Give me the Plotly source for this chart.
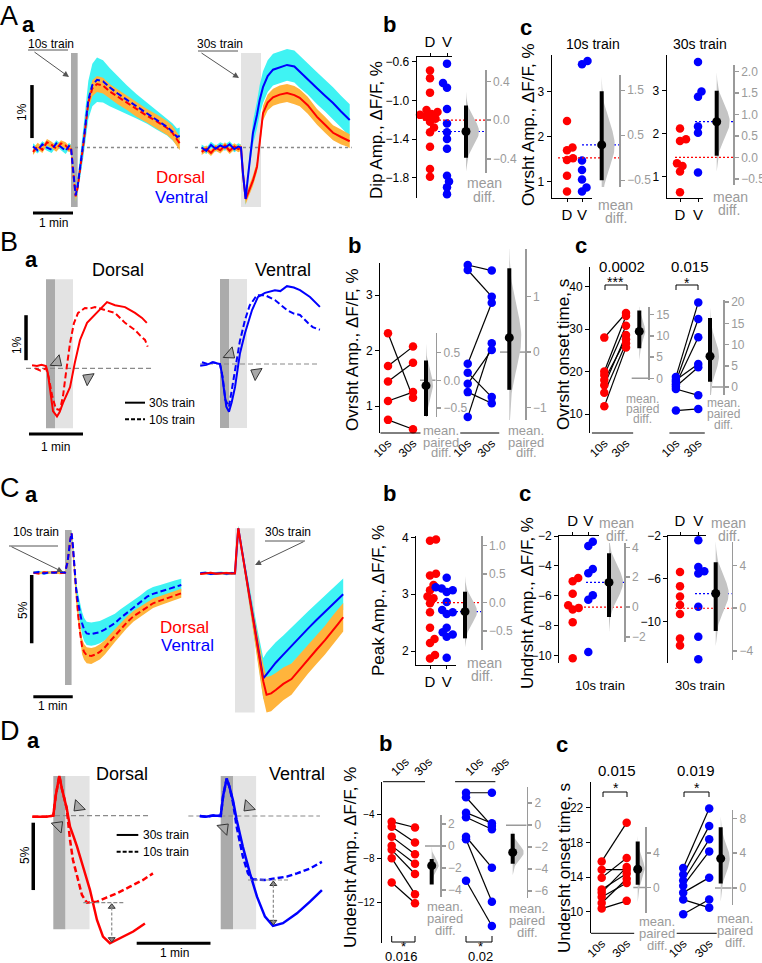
import math
import plotly.graph_objects as go

# ======================= DATA =======================
# --- A a : mean traces (dF/F, %) with SEM, time in s from train onset
a10_t = [-57, -50, -43, -36, -29, -22, -15, -8, -3, 0, 3, 7, 10, 14, 19, 26, 32, 39, 48, 58, 70, 84, 98, 114, 128, 144, 152, 159, 163]
a10_dorsal = [-0.08, 0.03, -0.04, 0.10, 0.05, -0.02, 0.08, 0.04, -0.03, 0.00, -0.42, -0.92, -0.75, -0.40, 0.10, 0.85, 1.12, 1.20, 1.17, 1.06, 0.96, 0.85, 0.72, 0.60, 0.50, 0.37, 0.28, 0.15, 0.08]
a10_dorsal_sem = [0.06, 0.06, 0.06, 0.06, 0.06, 0.06, 0.06, 0.06, 0.06, 0.06, 0.08, 0.10, 0.10, 0.11, 0.12, 0.14, 0.15, 0.15, 0.15, 0.14, 0.14, 0.14, 0.14, 0.13, 0.13, 0.13, 0.13, 0.13, 0.13]
a10_ventral = [0.02, -0.05, 0.06, 0.00, -0.04, 0.08, 0.01, -0.06, 0.03, 0.00, -0.40, -0.90, -0.72, -0.37, 0.14, 0.90, 1.18, 1.28, 1.25, 1.14, 1.02, 0.90, 0.78, 0.65, 0.52, 0.39, 0.30, 0.20, 0.22]
a10_ventral_sem = [0.06, 0.06, 0.06, 0.06, 0.06, 0.06, 0.06, 0.06, 0.06, 0.06, 0.10, 0.12, 0.15, 0.20, 0.28, 0.36, 0.40, 0.42, 0.40, 0.36, 0.32, 0.27, 0.23, 0.20, 0.18, 0.16, 0.16, 0.16, 0.16]

a30_t = [-59, -52, -45, -38, -31, -24, -17, -10, -4, 0, 3, 7, 10, 14, 18, 24, 28, 33, 40, 48, 58, 69, 80, 88, 100, 114, 126, 138, 150, 159, 163]
a30_dorsal = [-0.08, -0.02, -0.10, 0.00, -0.05, 0.04, -0.06, 0.02, -0.03, 0.00, -0.50, -0.97, -0.88, -0.75, -0.62, -0.36, 0.10, 0.65, 0.85, 0.95, 1.00, 1.03, 0.99, 0.94, 0.80, 0.58, 0.43, 0.28, 0.20, 0.15, 0.12]
a30_dorsal_sem = [0.06, 0.06, 0.06, 0.06, 0.06, 0.06, 0.06, 0.06, 0.06, 0.06, 0.08, 0.10, 0.10, 0.10, 0.10, 0.10, 0.12, 0.14, 0.15, 0.16, 0.17, 0.17, 0.17, 0.16, 0.16, 0.15, 0.15, 0.14, 0.14, 0.13, 0.13]
a30_ventral = [0.00, -0.06, 0.05, -0.02, 0.04, 0.00, 0.06, -0.03, 0.02, 0.00, -0.50, -0.97, -0.60, -0.10, 0.28, 0.62, 0.90, 1.14, 1.35, 1.47, 1.52, 1.56, 1.53, 1.43, 1.30, 1.12, 0.98, 0.84, 0.68, 0.56, 0.52]
a30_ventral_sem = [0.06, 0.06, 0.06, 0.06, 0.06, 0.06, 0.06, 0.06, 0.06, 0.06, 0.10, 0.12, 0.14, 0.18, 0.22, 0.26, 0.28, 0.30, 0.30, 0.30, 0.30, 0.30, 0.30, 0.30, 0.30, 0.30, 0.30, 0.30, 0.30, 0.30, 0.30]

# --- A b / A c
ab_dorsal = [-0.69, -0.77, -0.92, -1.10, -1.12, -1.14, -1.15, -1.17, -1.19, -1.22, -1.28, -1.33, -1.48, -1.71, -1.79]
ab_ventral = [-0.62, -0.82, -0.84, -0.87, -1.09, -1.24, -1.31, -1.33, -1.40, -1.50, -1.78, -1.84, -1.90, -1.97]
ab_ci = [-0.39, 0.15]
ac10_dorsal = [2.35, 1.76, 1.70, 1.52, 1.48, 1.13, 0.78]
ac10_ventral = [3.68, 3.61, 1.47, 1.26, 1.05, 0.87, 0.78]
ac10_ci = [-0.50, 1.48]
ac30_dorsal = [2.12, 1.87, 1.83, 1.31, 1.25, 1.12, 0.64]
ac30_ventral = [3.67, 2.98, 2.86, 2.17, 2.02, 1.15, 1.10]
ac30_ci = [0.04, 1.55]

# --- B a : single traces
bd_t30 = [-15.5, -10, -5, 0, 2, 4.4, 7.8, 12.2, 15, 18.9, 22, 26.7, 32, 37.8, 45.6, 52.2, 60, 67.8, 76.7, 87.8, 98.9, 106.7, 112]
bd_30 = [0.07, 0.05, 0.08, 0.05, -0.10, -0.50, -0.95, -1.07, -0.98, -0.77, -0.62, -0.42, 0.12, 0.63, 1.01, 1.14, 1.30, 1.47, 1.40, 1.36, 1.23, 1.12, 1.01]
bd_t10 = [-12, -6, 0, 3, 6.7, 11, 15.6, 19, 22.2, 26.7, 31, 35.6, 43.3, 49, 54.4, 60, 65.6, 76.7, 87.8, 98.9, 105, 110, 113]
bd_10 = [0.00, -0.05, 0.00, -0.20, -0.60, -0.90, -0.93, -0.60, -0.10, 0.56, 1.00, 1.23, 1.34, 1.33, 1.36, 1.33, 1.30, 1.23, 1.01, 0.85, 0.72, 0.63, 0.48]
bv_t30 = [-22, -15, -8, 0, 2, 4.4, 7, 10, 13, 16.7, 22.2, 27.8, 35.6, 42.2, 50, 61, 67, 74.4, 82, 88.9, 100, 111]
bv_30 = [-0.04, -0.02, 0.04, 0.00, -0.20, -0.60, -0.95, -1.06, -0.85, -0.51, 0.24, 0.69, 1.20, 1.49, 1.58, 1.64, 1.62, 1.73, 1.70, 1.64, 1.49, 1.27]
bv_t10 = [-20, -14, -8, 0, 3, 6, 10, 13, 17.8, 22, 27.8, 33, 41, 50, 61, 74.4, 82, 88.9, 97.8, 103, 111]
bv_10 = [0.04, 0.00, 0.04, 0.00, -0.30, -0.80, -0.95, -0.60, -0.06, 0.50, 0.98, 1.30, 1.53, 1.53, 1.42, 1.20, 1.12, 1.09, 0.91, 0.82, 0.76]

# --- B b / B c (paired)
bb_dorsal_10 = [2.31, 1.72, 1.44, 1.09, 0.75]
bb_dorsal_30 = [1.15, 2.07, 1.78, 1.25, 0.58]
bb_dorsal_ci = [-0.64, 0.36]
bb_ventral_10 = [3.54, 3.45, 1.76, 1.60, 1.40, 1.25, 0.80]
bb_ventral_30 = [3.44, 2.97, 2.86, 1.16, 2.01, 1.05, 2.13]
bb_ventral_ci = [-0.68, 1.51]
bc_dorsal_10 = [28.0, 20.0, 19.2, 18.0, 16.8, 15.0, 11.8]
bc_dorsal_30 = [33.8, 33.1, 30.8, 27.6, 28.6, 26.7, 25.7]
bc_dorsal_ci = [7.1, 16.0]
bc_ventral_10 = [18.7, 17.6, 17.0, 18.0, 16.5, 15.9, 10.8]
bc_ventral_30 = [36.3, 32.4, 28.1, 21.8, 21.0, 14.4, 11.2]
bc_ventral_ci = [1.25, 16.25]

# --- C a : mean traces with SEM
c10_t = [-48, -40, -32, -24, -16, -8, 0, 4, 8, 10, 12, 15, 17, 20, 23, 26, 29, 33, 40, 46, 53, 61, 68, 76, 84, 94, 104, 114, 125, 134, 145, 155, 167, 177]
c10_ventral = [0.00, 0.05, -0.05, 0.02, 0.00, 0.05, 0.00, 0.80, 2.40, 2.89, 2.00, 0.00, -1.20, -2.20, -3.00, -3.70, -4.15, -4.45, -4.50, -4.45, -4.35, -4.15, -3.96, -3.70, -3.34, -2.95, -2.61, -2.20, -1.76, -1.55, -1.39, -1.20, -1.03, -0.90]
c10_ventral_sem = [0.10, 0.10, 0.10, 0.10, 0.10, 0.10, 0.10, 0.15, 0.20, 0.20, 0.25, 0.35, 0.50, 0.65, 0.75, 0.82, 0.85, 0.85, 0.85, 0.85, 0.82, 0.80, 0.75, 0.70, 0.65, 0.60, 0.55, 0.52, 0.50, 0.50, 0.48, 0.46, 0.45, 0.45]
c10_dorsal = [0.00, -0.05, 0.03, 0.00, 0.04, -0.03, 0.00, 0.80, 2.40, 2.89, 1.80, -0.30, -1.76, -3.10, -4.42, -5.40, -5.80, -6.05, -6.10, -6.00, -5.80, -5.45, -5.05, -4.60, -4.15, -3.65, -3.20, -2.86, -2.55, -2.24, -2.05, -1.88, -1.70, -1.51]
c10_dorsal_sem = [0.08, 0.08, 0.08, 0.08, 0.08, 0.08, 0.08, 0.12, 0.15, 0.15, 0.20, 0.30, 0.40, 0.50, 0.55, 0.58, 0.58, 0.58, 0.58, 0.56, 0.55, 0.52, 0.50, 0.47, 0.45, 0.42, 0.40, 0.38, 0.36, 0.35, 0.34, 0.33, 0.33, 0.33]

c30_t = [-53, -45, -37, -29, -21, -13, -5, 0, 2, 5, 10, 15, 20, 25, 30, 35, 40, 43, 48, 55, 62, 73.5, 86, 99, 111, 124, 137, 149.5, 157, 164.7]
c30_ventral = [0.00, 0.04, -0.05, 0.00, 0.03, -0.04, 0.02, 0.00, 1.50, 3.30, 1.85, 0.40, -1.00, -2.50, -3.90, -5.40, -6.80, -7.70, -7.40, -6.95, -6.55, -5.96, -5.30, -4.64, -4.05, -3.42, -2.80, -2.20, -1.85, -1.54]
c30_ventral_sem = [0.10, 0.10, 0.10, 0.10, 0.10, 0.10, 0.10, 0.10, 0.15, 0.20, 0.25, 0.35, 0.50, 0.70, 0.90, 1.10, 1.30, 1.50, 1.60, 1.55, 1.50, 1.40, 1.35, 1.30, 1.25, 1.20, 1.15, 1.15, 1.15, 1.15]
c30_dorsal = [-0.05, 0.00, 0.04, -0.03, 0.00, 0.03, -0.02, 0.00, 1.50, 3.30, 1.80, 0.30, -1.10, -2.60, -4.10, -5.60, -7.10, -7.90, -8.90, -8.80, -8.55, -8.10, -7.75, -7.00, -6.30, -5.60, -4.90, -4.10, -3.70, -3.22]
c30_dorsal_sem = [0.08, 0.08, 0.08, 0.08, 0.08, 0.08, 0.08, 0.08, 0.12, 0.15, 0.20, 0.30, 0.45, 0.60, 0.80, 1.00, 1.15, 1.25, 1.30, 1.30, 1.25, 1.20, 1.15, 1.10, 1.05, 1.05, 1.05, 1.05, 1.05, 1.05]

# --- C b / C c
cb_dorsal = [3.94, 3.96, 3.36, 3.33, 3.16, 3.07, 2.96, 2.93, 2.84, 2.68, 2.41, 2.21, 2.14, 1.93, 1.87]
cb_ventral = [3.29, 3.10, 3.07, 3.04, 3.12, 2.86, 2.72, 2.68, 2.65, 2.41, 2.33, 2.29, 2.25, 1.88]
cb_ci = [-0.63, 0.19]
cc10_dorsal = [-4.82, -5.04, -5.87, -6.65, -6.82, -6.93, -7.78, -10.20]
cc10_ventral = [-2.38, -2.67, -4.22, -4.49, -5.98, -6.27, -9.78]
cc10_ci = [-0.67, 3.60]
cc30_dorsal = [-5.36, -6.68, -7.65, -8.44, -9.29, -11.56, -12.22]
cc30_ventral = [-2.40, -4.90, -5.30, -5.50, -8.60, -11.40, -13.50]
cc30_ci = [-2.13, 4.30]

# --- D a : single traces
dd_t30 = [-17, -12, -6, 0, 2, 4.9, 7, 10.9, 13.6, 16.5, 19.3, 24.2, 29.8, 35.5, 40.4, 46, 54.2, 65, 74.5]
dd_30 = [-0.07, -0.05, -0.08, 0.00, 1.50, 2.95, 2.00, 0.55, -0.82, -1.55, -2.30, -3.79, -5.50, -7.74, -8.98, -9.47, -9.10, -8.60, -8.00]
dd_t10 = [-17, -12, -6, 0, 2, 4.9, 7, 10.9, 13.6, 16, 19.3, 23.3, 27.4, 35.5, 43.6, 51.7, 62.3, 73, 81]
dd_10 = [-0.07, -0.05, -0.08, 0.00, 1.50, 2.95, 2.00, 0.55, -1.80, -3.29, -4.53, -5.89, -6.46, -6.38, -6.06, -5.76, -5.27, -4.77, -4.28]
dv_t30 = [-17, -12, -6, 0, 2, 4.9, 7, 10, 13, 18, 23.8, 29.5, 36, 42.5, 50.6, 62, 72.6, 82.3]
dv_30 = [0.00, -0.05, 0.03, 0.00, 1.50, 2.78, 2.20, 1.17, -0.30, -2.28, -4.26, -5.99, -7.47, -8.16, -7.96, -7.23, -6.36, -5.50]
dv_t10 = [-17, -12, -6, 0, 2, 4.9, 7, 10, 13, 18, 22.2, 26, 36, 44.2, 53.7, 62, 72.6, 82.3]
dv_10 = [0.00, -0.05, 0.03, 0.00, 1.50, 2.78, 2.20, 1.00, -0.80, -3.00, -4.26, -4.70, -4.75, -4.63, -4.50, -4.26, -3.90, -3.40]

# --- D b / D c (paired)
db_dorsal_10 = [-4.67, -5.13, -6.03, -6.87, -7.23, -7.99, -10.20]
db_dorsal_30 = [-5.20, -6.57, -7.63, -8.50, -9.43, -11.26, -12.08]
db_dorsal_ci = [-3.5, -1.2]
db_ventral_10 = [-2.04, -2.45, -3.85, -4.27, -6.04, -6.27, -10.04]
db_ventral_30 = [-2.04, -5.06, -4.82, -5.36, -8.85, -11.95, -14.15]
db_ventral_ci = [-3.5, -0.77]
dc_dorsal_10 = [15.8, 14.85, 13.93, 12.55, 12.2, 11.7, 11.0, 10.36]
dc_dorsal_30 = [20.27, 14.85, 16.2, 14.4, 15.15, 13.3, 13.8, 11.25]
dc_dorsal_ci = [0.3, 5.3]
dc_ventral_10 = [15.04, 14.28, 13.6, 13.0, 12.2, 11.4, 9.7]
dc_ventral_30 = [21.9, 19.9, 18.35, 16.96, 13.93, 10.47, 11.4]
dc_ventral_ci = [0.5, 7.0]

# ======================= STYLE / HELPERS =======================
W, H = 762, 963
FONT = "Liberation Sans, Arial, Helvetica, sans-serif"
RED, BLUE = "#ff0000", "#0000ff"
CYAN, ORANGE = "#3ff3f3", "#ffb43c"
DGRAY, LGRAY = "#ababab", "#e3e3e3"
GRAY = "#9a9a9a"
VIOL = "#c4c4c4"
MINUS = "\u2212"

fig = go.Figure()
layout, shapes, annos = {}, [], []
_n = [0]


def X(px):
    return px / W


def Y(py):
    return 1 - py / H


def cal(p0, p1, pa, va, pb, vb):
    k = (vb - va) / (pb - pa)
    return [va + (p0 - pa) * k, va + (p1 - pa) * k]


BASE = dict(showgrid=False, zeroline=False, showticklabels=False, ticks='', showline=False,
            fixedrange=True, automargin=False)


def new_axes(box, xr, yr, xkw=None, ykw=None):
    _n[0] += 1
    n = _n[0]
    s = '' if n == 1 else str(n)
    x0, x1, y0, y1 = box
    xa = dict(BASE, domain=[X(x0), X(x1)], range=xr, anchor='y' + s)
    ya = dict(BASE, domain=[Y(y1), Y(y0)], range=yr, anchor='x' + s)
    if xkw:
        xa.update(xkw)
    if ykw:
        ya.update(ykw)
    layout['xaxis' + s] = xa
    layout['yaxis' + s] = ya
    return 'x' + s, 'y' + s


def trace_axes(box, xs, sx, ys, sy):
    x0, x1, y0, y1 = box
    return new_axes(box, [(x0 - xs) / sx, (x1 - xs) / sx], [(ys - y1) / sy, (ys - y0) / sy])


def line(xa, ya, x, y, color, width=2, dash=None):
    ld = dict(color=color, width=width)
    if dash:
        ld['dash'] = dash
    fig.add_trace(go.Scatter(x=x, y=y, mode='lines', line=ld, xaxis=xa, yaxis=ya, hoverinfo='skip'))


def band(xa, ya, t, v, s, color):
    up = [a + b for a, b in zip(v, s)]
    lo = [a - b for a, b in zip(v, s)]
    fig.add_trace(go.Scatter(x=list(t) + list(t)[::-1], y=up + lo[::-1], mode='lines', fill='toself',
                             fillcolor=color, line=dict(width=0), xaxis=xa, yaxis=ya, hoverinfo='skip'))


def dots(xa, ya, xs, ys, color, size=8.5):
    fig.add_trace(go.Scatter(x=xs, y=ys, mode='markers', marker=dict(size=size, color=color, line=dict(width=0)),
                             cliponaxis=False, xaxis=xa, yaxis=ya, hoverinfo='skip'))


def tri(xa, ya, x, y, angle, size=12, color='#a8a8a8'):
    fig.add_trace(go.Scatter(x=[x], y=[y], mode='markers',
                             marker=dict(symbol='triangle-up', size=size, angle=angle, color=color,
                                         line=dict(color='#333333', width=1)),
                             cliponaxis=False, xaxis=xa, yaxis=ya, hoverinfo='skip'))


def rect(xa, ya, x0, y0, x1, y1, color):
    shapes.append(dict(type='rect', xref=xa, yref=ya, x0=x0, y0=y0, x1=x1, y1=y1,
                       fillcolor=color, line=dict(width=0), layer='below'))


def seg(xref, yref, x0, y0, x1, y1, color='black', width=1, dash=None, layer='above'):
    ld = dict(color=color, width=width)
    if dash:
        ld['dash'] = dash
    shapes.append(dict(type='line', xref=xref, yref=yref, x0=x0, y0=y0, x1=x1, y1=y1, line=ld, layer=layer))


def pline(x0, y0, x1, y1, color='black', width=1):
    seg('paper', 'paper', X(x0), Y(y0), X(x1), Y(y1), color, width)


def text(x, y, s, size=12, color='black', bold=False, angle=0, xanchor='center'):
    if bold:
        s = '<b>' + s + '</b>'
    annos.append(dict(xref='paper', yref='paper', x=X(x), y=Y(y), text=s, showarrow=False,
                      font=dict(size=size, color=color, family=FONT), textangle=angle,
                      xanchor=xanchor, yanchor='middle', borderpad=0))


def arrow(hx, hy, tx, ty):
    annos.append(dict(xref='paper', yref='paper', x=X(hx), y=Y(hy), ax=tx - hx, ay=ty - hy,
                      axref='pixel', ayref='pixel', text='', showarrow=True, arrowhead=2,
                      arrowsize=1.2, arrowwidth=1, arrowcolor='#555555'))


def swarm(vals, ppx, ppy, d=6.0):
    order = sorted(range(len(vals)), key=lambda i: vals[i])
    cands = [0.0]
    for k in range(1, 40):
        cands += [k * 0.5, -k * 0.5]
    placed = []
    offs = [0.0] * len(vals)
    for i in order:
        yp = vals[i] * ppy
        for c in cands:
            if all((c - px) ** 2 + (yp - py) ** 2 >= d * d for px, py in placed):
                offs[i] = c
                placed.append((c, yp))
                break
    return [o / ppx for o in offs]


def grayax(tv, tt):
    return dict(side='right', showline=True, linecolor=GRAY, linewidth=1.5, ticks='outside', ticklen=4,
                tickwidth=1.5, tickcolor=GRAY, tickvals=tv, ticktext=tt, showticklabels=True,
                tickfont=dict(size=12, color=GRAY, family=FONT))


def estimate(xa, ya, xm, d, ci, vw):
    lo, hi = ci
    sd = (hi - lo) / 3.92
    zs = [i / 10.0 for i in range(-30, 31)]
    vx = [xm] + [xm + vw * math.exp(-z * z / 2) for z in zs] + [xm]
    vy = [d - 3 * sd] + [d + z * sd for z in zs] + [d + 3 * sd]
    fig.add_trace(go.Scatter(x=vx, y=vy, mode='lines', fill='toself', fillcolor=VIOL, line=dict(width=0),
                             xaxis=xa, yaxis=ya, hoverinfo='skip'))
    line(xa, ya, [xm, xm], [lo, hi], 'black', 4)
    dots(xa, ya, [xm], [d], 'black', 9)


def ylab(tv):
    return [(MINUS + ('%g' % abs(v)) if v < 0 else '%g' % v) for v in tv]


def ylabf(tv, fmt):
    return [(MINUS if v < 0 else '') + (fmt % abs(v)) for v in tv]


def unpaired(box, xD, xV, ycal, ytv, ytt, xside, g1, g2, ci, dbox, dtv, dtt, xm_px, s1_px, s2_px, vw_px):
    x0, x1, y0, y1 = box
    xcal = (xD, 0.0, xV, 1.0)
    xa, ya = new_axes(box, cal(x0, x1, *xcal), cal(y1, y0, *ycal),
                      xkw=dict(showline=True, linecolor='black', linewidth=1, side=xside, ticks='outside',
                               ticklen=3, tickcolor='black', tickvals=[0, 1], ticktext=['D', 'V'],
                               showticklabels=True, tickfont=dict(size=15, color='black', family=FONT)),
                      ykw=dict(showline=True, linecolor='black', linewidth=1, ticks='outside', ticklen=4,
                               tickcolor='black', tickvals=ytv, ticktext=ytt, showticklabels=True,
                               tickfont=dict(size=12, color='black', family=FONT)))
    ppx = xV - xD
    ppy = (ycal[2] - ycal[0]) / (ycal[1] - ycal[3])
    o1 = swarm(g1, ppx, ppy)
    o2 = swarm(g2, ppx, ppy)
    m1 = sum(g1) / len(g1)
    m2 = sum(g2) / len(g2)
    dx0, dx1, dy0, dy1 = dbox
    dxr = cal(dx0, dx1, *xcal)
    dyr = cal(dy1, dy0, ycal[0], ycal[1] - m1, ycal[2], ycal[3] - m1)
    dxa, dya = new_axes(dbox, dxr, dyr, ykw=grayax(dtv, dtt))
    u = lambda p: (p - xD) / ppx
    dots(xa, ya, [0 + o for o in o1], g1, RED)
    dots(xa, ya, [1 + o for o in o2], g2, BLUE)
    line(dxa, dya, [u(s1_px), dxr[1]], [0, 0], RED, 1.2, '2px,2px')
    line(dxa, dya, [u(s2_px), dxr[1]], [m2 - m1, m2 - m1], BLUE, 1.2, '2px,2px')
    estimate(dxa, dya, u(xm_px), m2 - m1, ci, vw_px / ppx)


def paired_axes(box, x10, x30, ycal, ytv, ytt, xside, tickpos, ytsize=12):
    x0, x1, y0, y1 = box
    xcal = (x10, 0.0, x30, 1.0)
    xa, ya = new_axes(box, cal(x0, x1, *xcal), cal(y1, y0, *ycal),
                      xkw=dict(side=xside, tickvals=tickpos, ticktext=['10s', '30s', '10s', '30s'],
                               showticklabels=True, tickangle=-45,
                               tickfont=dict(size=12, color='black', family=FONT)),
                      ykw=dict(showline=True, linecolor='black', linewidth=1, ticks='outside', ticklen=4,
                               tickcolor='black', tickvals=ytv, ticktext=ytt, showticklabels=True,
                               tickfont=dict(size=ytsize, color='black', family=FONT)))
    return (xa, ya, xcal, ycal)


def paired_group(P, p10, p30, g10, g30, color, ci, dbox, dtv, dtt, xm_px, z0_px, vw_px):
    xa, ya, xcal, ycal = P
    lx, ly = [], []
    for a, b in zip(g10, g30):
        lx += [p10, p30, None]
        ly += [a, b, None]
    fig.add_trace(go.Scatter(x=lx, y=ly, mode='lines', line=dict(color='black', width=1.2),
                             xaxis=xa, yaxis=ya, hoverinfo='skip'))
    dots(xa, ya, [p10] * len(g10), g10, color)
    dots(xa, ya, [p30] * len(g30), g30, color)
    m10 = sum(g10) / len(g10)
    d = sum(g30) / len(g30) - m10
    dx0, dx1, dy0, dy1 = dbox
    dxr = cal(dx0, dx1, *xcal)
    dyr = cal(dy1, dy0, ycal[0], ycal[1] - m10, ycal[2], ycal[3] - m10)
    dxa, dya = new_axes(dbox, dxr, dyr, ykw=grayax(dtv, dtt))
    ppx = xcal[2] - xcal[0]
    line(dxa, dya, [(z0_px - xcal[0]) / ppx, dxr[1]], [0, 0], GRAY, 1.5)
    estimate(dxa, dya, (xm_px - xcal[0]) / ppx, d, ci, vw_px / ppx)


def spine_seg(P, xa0, xa1, ydom):
    xa, ya = P[0], P[1]
    seg(xa, ya + ' domain', xa0, ydom, xa1, ydom, 'black', 1)


# ======================= PANEL A =======================
text(9, 16, 'A', 27)
text(28, 24, 'a', 22, bold=True)
# A a left (10 s)
xa, ya = trace_axes((18, 190, 38, 222), 71, 0.667, 147.6, 53)
rect(xa, ya, 0, -1.12, 10, 1.785, DGRAY)
seg(xa, ya, -57, 0, 163, 0, '#8a8a8a', 1.5, '3px,3px', 'below')
band(xa, ya, a10_t, a10_ventral, a10_ventral_sem, CYAN)
band(xa, ya, a10_t, a10_dorsal, a10_dorsal_sem, ORANGE)
line(xa, ya, a10_t, a10_dorsal, RED, 2, '6px,3px')
line(xa, ya, a10_t, a10_ventral, BLUE, 2, '6px,3px')
seg(xa, ya, -58.5, 0.18, -58.5, 1.18, 'black', 3.5)
seg(xa, ya, -57, -1.234, 3, -1.234, 'black', 3)
# A a right (30 s)
xa, ya = trace_axes((190, 360, 38, 222), 241, 0.667, 147.6, 53)
rect(xa, ya, 0, -1.12, 30, 1.785, LGRAY)
seg(xa, ya, -69, 0, 166, 0, '#8a8a8a', 1.5, '3px,3px', 'below')
band(xa, ya, a30_t, a30_ventral, a30_ventral_sem, CYAN)
band(xa, ya, a30_t, a30_dorsal, a30_dorsal_sem, ORANGE)
line(xa, ya, a30_t, a30_dorsal, RED, 2)
line(xa, ya, a30_t, a30_ventral, BLUE, 2)
text(22, 112, '1%', 12, angle=-90)
text(53, 223, '1 min', 12)
text(51, 44, '10s train', 12)
pline(28, 50, 68, 50, '#555555', 1)
arrow(69, 77, 33, 51)
text(220, 44, '30s train', 12)
pline(198, 51, 238, 51, '#555555', 1)
arrow(239, 78, 200, 52)
text(180, 178, 'Dorsal', 17, RED)
text(181, 197, 'Ventral', 17, BLUE)

# A b
text(389, 25, 'b', 22, bold=True)
unpaired((416.7, 451.7, 56.7, 198), 430, 447, (61.7, -0.6, 177.7, -1.8), [-0.6, -1.0, -1.4, -1.8],
         ylabf([-0.6, -1.0, -1.4, -1.8], '%.1f'), 'top', ab_dorsal, ab_ventral, ab_ci,
         (418, 485, 70, 172.7), [0.4, 0.0, -0.4], ylabf([0.4, 0.0, -0.4], '%.1f'), 466, 423, 438, 13)
text(377, 130, 'Dip Amp., \u0394F/F, %', 17, angle=-90)
text(484, 183, 'mean', 14, GRAY)
text(484, 197, 'diff.', 14, GRAY)

# A c
text(526, 27, 'c', 22, bold=True)
text(528, 125, 'Ovrsht Amp., \u0394F/F, %', 17, angle=-90)
text(593, 44, '10s train', 14)
text(700, 44, '30s train', 14)
unpaired((551.7, 591.7, 55, 198), 567, 582, (91.7, 3, 181.7, 1), [3, 2, 1], ['3', '2', '1'], 'bottom',
         ac10_dorsal, ac10_ventral, ac10_ci, (555, 619.3, 75, 187), [1.5, 0.5, -0.5],
         ylabf([1.5, 0.5, -0.5], '%.1f'), 601.7, 558, 582, 13)
unpaired((666.7, 703, 55, 198), 680, 698, (90.7, 3, 176.7, 1), [3, 2, 1], ['3', '2', '1'], 'bottom',
         ac30_dorsal, ac30_ventral, ac30_ci, (670, 733.3, 65, 185), [2.0, 1.5, 1.0, 0.5, 0.0, -0.5],
         ylabf([2.0, 1.5, 1.0, 0.5, 0.0, -0.5], '%.1f'), 716.7, 675, 695, 13)
text(615, 205, 'mean', 14, GRAY)
text(616, 218, 'diff.', 14, GRAY)
text(730, 197, 'mean', 14, GRAY)
text(729, 210, 'diff.', 14, GRAY)

# ======================= PANEL B =======================
text(9, 242, 'B', 27)
text(31, 260, 'a', 22, bold=True)
text(118, 270, 'Dorsal', 18)
text(283, 270, 'Ventral', 18)
# B a dorsal
xa, ya = trace_axes((10, 165, 255, 455), 46, 0.9, 368.3, 45)
rect(xa, ya, 0, -1.33, 10, 1.98, DGRAY)
rect(xa, ya, 10, -1.33, 30, 1.98, LGRAY)
seg(xa, ya, -22.2, 0, 118.9, 0, '#8a8a8a', 1.2, '5px,3px', 'below')
line(xa, ya, bd_t10, bd_10, RED, 2, '6px,3px')
line(xa, ya, bd_t30, bd_30, RED, 2)
tri(xa, ya, 12.2, 0.14, 130)
tri(xa, ya, 46.7, -0.22, 300)
seg(xa, ya, -22.2, 0.18, -22.2, 1.18, 'black', 3.5)
seg(xa, ya, -18.9, -1.46, 41.1, -1.46, 'black', 3)
seg(xa, ya, 87.8, -0.764, 110, -0.764, 'black', 2)
seg(xa, ya, 87.8, -1.133, 110, -1.133, 'black', 2, '4px,2px')
text(148, 403, '30s train', 12, xanchor='left')
text(148, 419.5, '10s train', 12, xanchor='left')
text(17, 345, '1%', 12, angle=-90)
text(55, 447, '1 min', 12)
# B a ventral
xa, ya = trace_axes((185, 335, 255, 455), 220, 0.9, 364, 45)
rect(xa, ya, 0, -1.42, 10, 1.89, DGRAY)
rect(xa, ya, 10, -1.42, 30, 1.89, LGRAY)
seg(xa, ya, -22.2, 0, 111, 0, '#8a8a8a', 1.2, '5px,3px', 'below')
line(xa, ya, bv_t10, bv_10, BLUE, 2, '6px,3px')
line(xa, ya, bv_t30, bv_30, BLUE, 2)
tri(xa, ya, 11.1, 0.22, 130)
tri(xa, ya, 40, -0.2, 300)

# B b
text(354, 245, 'b', 22, bold=True)
text(353, 350, 'Ovrsht Amp., \u0394F/F, %', 17, angle=-90)
P = paired_axes((380, 505, 263, 433), 388, 413, (295, 3, 406, 1), [3, 2, 1], ['3', '2', '1'], 'bottom',
                [0, 1, 3.19, 4.15])
spine_seg(P, -0.3, 1.3, 0)
spine_seg(P, 2.89, 4.45, 0)
paired_group(P, 0, 1, bb_dorsal_10, bb_dorsal_30, RED, bb_dorsal_ci, (415, 435.7, 333, 417),
             [0.5, 0.0, -0.5], ylabf([0.5, 0.0, -0.5], '%.1f'), 426, 420, 7)
paired_group(P, 3.19, 4.15, bb_ventral_10, bb_ventral_30, BLUE, bb_ventral_ci, (495, 525, 249, 420),
             [2, 1, 0, -1], ylab([2, 1, 0, -1]), 509.3, 500, 12)
for yy, s in [(430, 'mean.'), (442, 'paired'), (453, 'diff.')]:
    text(441, yy, s, 13, GRAY)
    text(526, yy, s, 13, GRAY)

# B c
text(581, 245, 'c', 22, bold=True)
text(563, 355, 'Ovrsht onset time, s', 17, angle=-90)
P = paired_axes((590, 712, 266.7, 433), 604.3, 626, (286.7, 40, 414, 10), [40, 30, 20, 10],
                ['40', '30', '20', '10'], 'bottom', [0, 1, 3.30, 4.33])
spine_seg(P, -0.57, 1.33, 0)
spine_seg(P, 3.0, 4.63, 0)
paired_group(P, 0, 1, bc_dorsal_10, bc_dorsal_30, RED, bc_dorsal_ci, (628, 648.3, 306.7, 380),
             [15, 10, 5, 0], ylab([15, 10, 5, 0]), 639.3, 631.7, 6)
paired_group(P, 3.30, 4.33, bc_ventral_10, bc_ventral_30, BLUE, bc_ventral_ci, (702, 723.3, 300, 395),
             [20, 15, 10, 5, 0], ylab([20, 15, 10, 5, 0]), 710, 711.7, 9)
text(622, 267, '0.0002', 15)
text(615, 282, '***', 14)
pline(605, 285, 627, 285)
pline(605, 285, 605, 290)
pline(627, 285, 627, 290)
text(690, 267, '0.015', 15)
text(687, 283, '*', 14)
pline(676, 285, 698, 285)
pline(676, 285, 676, 290)
pline(698, 285, 698, 290)
for yy, s in [(399, 'mean.'), (409, 'paired'), (419, 'diff.')]:
    text(642, yy, s, 12, GRAY)
for yy, s in [(403, 'mean.'), (414, 'paired'), (425, 'diff.')]:
    text(723, yy, s, 12, GRAY)

# ======================= PANEL C =======================
text(10, 488, 'C', 27)
text(31, 494, 'a', 22, bold=True)
xa, ya = trace_axes((3, 190, 515, 722), 65, 0.657, 572.7, 13.65)
rect(xa, ya, 0, -8.23, 10, 3.13, DGRAY)
band(xa, ya, c10_t, c10_ventral, c10_ventral_sem, CYAN)
band(xa, ya, c10_t, c10_dorsal, c10_dorsal_sem, ORANGE)
line(xa, ya, c10_t, c10_dorsal, RED, 2, '6px,3px')
line(xa, ya, c10_t, c10_ventral, BLUE, 2, '6px,3px')
seg(xa, ya, -50.7, -0.17, -50.7, -5.17, 'black', 3.5)
seg(xa, ya, -48.2, -9.08, 11.8, -9.08, 'black', 3)
xa, ya = trace_axes((190, 362, 515, 722), 235, 0.657, 573.3, 13.65)
rect(xa, ya, 0, -10.2, 30, 3.3, LGRAY)
band(xa, ya, c30_t, c30_ventral, c30_ventral_sem, CYAN)
band(xa, ya, c30_t, c30_dorsal, c30_dorsal_sem, ORANGE)
line(xa, ya, c30_t, c30_ventral, BLUE, 2)
line(xa, ya, c30_t, c30_dorsal, RED, 2)
text(23, 610, '5%', 12, angle=-90)
text(52, 706, '1 min', 12)
text(36, 532, '10s train', 12)
pline(9, 546, 58, 546, '#555555', 1)
arrow(63, 572, 10, 546)
text(288, 532, '30s train', 12)
pline(265, 541, 305, 541, '#555555', 1)
arrow(255, 565, 305, 541)
text(184, 627, 'Dorsal', 17, RED)
text(187, 645, 'Ventral', 17, BLUE)

# C b
text(389, 493, 'b', 22, bold=True)
text(378, 601, 'Peak Amp., \u0394F/F, %', 17, angle=-90)
unpaired((416, 456, 536, 665), 430, 446.7, (537.3, 4, 651, 2), [4, 3, 2], ['4', '3', '2'], 'bottom',
         cb_dorsal, cb_ventral, cb_ci, (420, 481, 536, 650), [1.0, 0.5, 0.0, -0.5],
         ylabf([1.0, 0.5, 0.0, -0.5], '%.1f'), 465, 433, 448, 12)
text(484, 663, 'mean', 14, GRAY)
text(482, 676, 'diff.', 14, GRAY)

# C c
text(525, 493, 'c', 22, bold=True)
text(527, 603, 'Undrsht Amp., \u0394F/F, %', 17, angle=-90)
unpaired((559, 599.3, 536, 663), 572.7, 588.3, (536, -2, 655.3, -10), [-2, -4, -6, -8, -10],
         ylab([-2, -4, -6, -8, -10]), 'top', cc10_dorsal, cc10_ventral, cc10_ci, (562, 624, 543, 641.7),
         [4, 2, 0, -2], ylab([4, 2, 0, -2]), 609, 568, 586, 14)
unpaired((668.3, 706, 536, 663), 680, 698.3, (536, -2, 621.7, -10), [-2, -6, -10, -14],
         ylab([-2, -6, -10, -14]), 'top', cc30_dorsal, cc30_ventral, cc30_ci, (671, 731.7, 541.7, 660),
         [4, 0, -4], ylab([4, 0, -4]), 715.7, 675, 695, 13)
text(616, 523, 'mean', 14, GRAY)
text(617, 536, 'diff.', 14, GRAY)
text(728, 523, 'mean', 14, GRAY)
text(729, 536, 'diff.', 14, GRAY)
text(600, 685, '10s train', 13)
text(700, 685, '30s train', 13)

# ======================= PANEL D =======================
text(10, 731, 'D', 27)
text(33, 740, 'a', 22, bold=True)
text(122, 774, 'Dorsal', 18)
text(297, 774, 'Ventral', 18)
# D a dorsal
xa, ya = trace_axes((18, 218, 762, 960), 53.3, 1.23, 815.7, 13.47)
rect(xa, ya, 0, -8.43, 10, 2.95, DGRAY)
rect(xa, ya, 10, -8.43, 29.5, 2.95, LGRAY)
seg(xa, ya, 1.4, 0, 78.6, 0, '#8a8a8a', 1.2, '5px,3px', 'below')
line(xa, ya, dd_t10, dd_10, RED, 2.5, '6px,3px')
line(xa, ya, dd_t30, dd_30, RED, 2.5)
m10, m30 = min(dd_10), min(dd_30)
seg(xa, ya, 24.4, m10, 56.9, m10, '#8a8a8a', 1.2, '4px,2px')
seg(xa, ya, 47.5, m10 - 0.35, 47.5, m30 + 0.35, '#8a8a8a', 1.2, '3px,2px')
tri(xa, ya, 47.5, m10 - 0.3, 0, 6, '#8a8a8a')
tri(xa, ya, 47.5, m30 + 0.3, 180, 6, '#8a8a8a')
tri(xa, ya, 20.3, 0.67, 225)
tri(xa, ya, 4.1, -0.76, 45)
seg(xa, ya, -16.3, -0.52, -16.3, -5.52, 'black', 3.5)
seg(xa, ya, 67.8, -9.47, 127.8, -9.47, 'black', 3)
seg(xa, ya, 51.5, -1.43, 69.1, -1.43, 'black', 2)
seg(xa, ya, 51.5, -2.67, 69.1, -2.67, 'black', 2, '4px,2px')
text(142, 835, '30s train', 12, xanchor='left')
text(142, 852, '10s train', 12, xanchor='left')
text(25, 855, '5%', 12, angle=-90)
text(174, 953, '1 min', 12)
# D a ventral
xa, ya = trace_axes((185, 335, 762, 960), 220.7, 1.23, 816, 13.47)
rect(xa, ya, 0, -8.41, 10, 2.97, DGRAY)
rect(xa, ya, 10, -8.41, 28.8, 2.97, LGRAY)
seg(xa, ya, -26.3, 0, 80.7, 0, '#8a8a8a', 1.2, '5px,3px', 'below')
line(xa, ya, dv_t10, dv_10, BLUE, 2.5, '6px,3px')
line(xa, ya, dv_t30, dv_30, BLUE, 2.5)
m10, m30 = min(dv_10), min(dv_30)
seg(xa, ya, 22.2, m10, 56.3, m10, '#8a8a8a', 1.2, '4px,2px')
seg(xa, ya, 42.8, m10 - 0.35, 42.8, m30 + 0.35, '#8a8a8a', 1.2, '3px,2px')
tri(xa, ya, 42.8, m10 - 0.3, 0, 6, '#8a8a8a')
tri(xa, ya, 42.8, m30 + 0.3, 180, 6, '#8a8a8a')
tri(xa, ya, 22.4, 0.69, 225)
tri(xa, ya, 2.7, -0.91, 45)

# D b
text(385, 743, 'b', 22, bold=True)
text(350, 858, 'Undersht Amp., \u0394F/F, %', 17, angle=-90)
P = paired_axes((381.7, 500, 781.7, 943.3), 391.7, 415, (814.3, -4, 858.3, -8), [-4, -8, -12, -16],
                ylab([-4, -8, -12, -16]), 'top', [0, 1, 3.19, 4.30], ytsize=10)
spine_seg(P, -0.37, 1.43, 1)
spine_seg(P, 2.72, 4.45, 1)
paired_group(P, 0, 1, db_dorsal_10, db_dorsal_30, RED, db_dorsal_ci, (420, 440, 815, 896.7),
             [2, 0, -2, -4], ylab([2, 0, -2, -4]), 431.7, 425, 7)
paired_group(P, 3.19, 4.30, db_ventral_10, db_ventral_30, BLUE, db_ventral_ci, (500, 526.7, 786.7, 898.3),
             [2, 0, -2, -4, -6], ylab([2, 0, -2, -4, -6]), 512.7, 506, 11)
for yy, s in [(906, 'mean.'), (918, 'paired'), (930, 'diff.')]:
    text(445, yy, s, 13, GRAY)
for yy, s in [(908, 'mean.'), (920, 'paired'), (932, 'diff.')]:
    text(527, yy, s, 13, GRAY)
pline(391.7, 942, 415, 942)
pline(391.7, 936, 391.7, 942)
pline(415, 936, 415, 942)
pline(466, 942, 492, 942)
pline(466, 936, 466, 942)
pline(492, 936, 492, 942)
text(403, 946, '*', 13)
text(402, 956, '0.016', 13)
text(480, 946, '*', 13)
text(480, 956, '0.02', 13)

# D c
text(562, 744, 'c', 22, bold=True)
text(564, 868, 'Undersht onset time, s', 17, angle=-90)
P = paired_axes((590.7, 722, 781.7, 933.3), 601.7, 626.7, (807.7, 22, 911.7, 10), [22, 18, 14, 10],
                ['22', '18', '14', '10'], 'bottom', [0, 1, 3.26, 4.30])
spine_seg(P, -0.44, 1.3, 0)
spine_seg(P, 3.0, 4.6, 0)
paired_group(P, 0, 1, dc_dorsal_10, dc_dorsal_30, RED, dc_dorsal_ci, (630, 645, 826.7, 913.3),
             [4, 0], ['4', '0'], 637.7, 633.3, 7)
paired_group(P, 3.26, 4.30, dc_ventral_10, dc_ventral_30, BLUE, dc_ventral_ci, (712, 731.7, 810, 905),
             [8, 4, 0], ['8', '4', '0'], 720.7, 715, 9)
text(617, 770, '0.015', 15)
text(616, 788, '*', 14)
pline(603, 792, 627, 792)
pline(603, 792, 603, 797)
pline(627, 792, 627, 797)
text(696, 770, '0.019', 15)
text(697, 788, '*', 14)
pline(684, 792, 709, 792)
pline(684, 792, 684, 797)
pline(709, 792, 709, 797)
for yy, s in [(921, 'mean.'), (933, 'paired'), (945, 'diff.')]:
    text(657, yy, s, 13, GRAY)
for yy, s in [(918, 'mean.'), (930, 'paired'), (942, 'diff.')]:
    text(735, yy, s, 13, GRAY)

# ======================= LAYOUT =======================
fig.update_layout(width=W, height=H, margin=dict(l=0, r=0, t=0, b=0, pad=0), autosize=False,
                  paper_bgcolor='white', plot_bgcolor='rgba(0,0,0,0)', showlegend=False,
                  font=dict(family=FONT, size=12, color='black'),
                  shapes=shapes, annotations=annos, **layout)
fig.write_html("out.html", config={'displayModeBar': False, 'staticPlot': True},
               post_script="document.body.style.margin='0px';document.body.style.padding='0px';"
                           "document.body.style.overflow='hidden';")
